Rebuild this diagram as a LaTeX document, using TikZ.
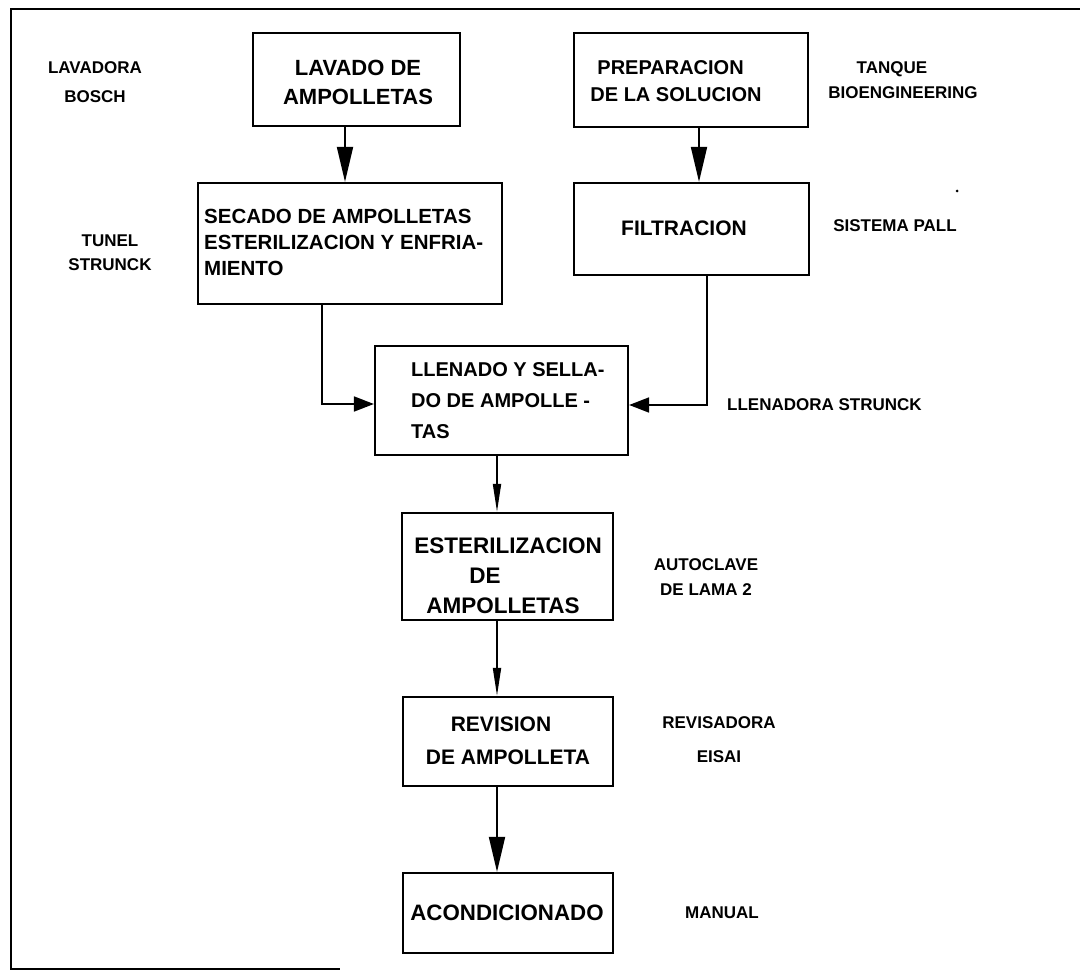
\documentclass[tikz,border=0pt]{standalone}
\usepackage{fontspec}
\setmainfont{Liberation Sans}
\usetikzlibrary{arrows.meta,calc}
\begin{document}
\begin{tikzpicture}[x=1pt,y=-1pt,
  box/.style={draw,line width=2.2pt,inner sep=0pt},
  txt/.style={inner sep=0pt,font=\fontsize{21}{30}\selectfont\bfseries,align=center},
  lbl/.style={inner sep=0pt,font=\fontsize{17}{26}\selectfont\bfseries,align=center},
  link/.style={line width=1.8pt},
  bigtip/.style={link,-{Triangle[length=35pt,width=16pt]}},
  midtip/.style={link,-{Triangle[length=28pt,width=8pt]}},
  sidetip/.style={link,-{Triangle[length=20pt,width=15pt]}}]
\useasboundingbox (0,0) rectangle (1080,979);

% page frame
\draw[line width=2.5pt] (1080,9) -- (11,9) -- (11,969) -- (340,969);

% process boxes
\node[box,minimum width=207pt,minimum height=93pt]  (lav)   at (356.5,79.5) {};
\node[box,minimum width=234pt,minimum height=94pt]  (prep)  at (691,80) {};
\node[box,minimum width=304pt,minimum height=121pt] (sec)   at (350,243.5) {};
\node[box,minimum width=235pt,minimum height=92pt]  (filt)  at (691.5,229) {};
\node[box,minimum width=253pt,minimum height=109pt] (llen)  at (501.5,400.5) {};
\node[box,minimum width=211pt,minimum height=107pt] (ester) at (507.5,566.5) {};
\node[box,minimum width=210pt,minimum height=89pt]  (rev)   at (508,741.5) {};
\node[box,minimum width=210pt,minimum height=80pt]  (acond) at (508,913) {};

% box captions
\node[txt,font=\fontsize{22}{29}\selectfont\bfseries] (lavT) at (358,82.5)
  {LAVADO DE\\AMPOLLETAS};
\node[txt,align=left,font=\fontsize{20}{27}\selectfont\bfseries] (prepT) at (676,81.5)
  {\hspace*{0.35em}PREPARACION\\DE LA SOLUCION};
\node[txt,anchor=west,align=left,font=\fontsize{20.5}{26}\selectfont\bfseries]
  (secT) at (204,242)
  {SECADO DE AMPOLLETAS\\ESTERILIZACION Y ENFRIA-\\MIENTO};
\node[txt] (filtT) at (684,228) {FILTRACION};
\node[txt,anchor=west,align=left,font=\fontsize{20}{31}\selectfont\bfseries] (llenT) at (411,401)
  {LLENADO Y SELLA-\\DO DE AMPOLLE -\\TAS};
\node[txt,font=\fontsize{22.5}{30}\selectfont\bfseries] (esterT) at (508,576)
  {ESTERILIZACION\\DE\makebox[46pt]{}\\AMPOLLETAS\makebox[10pt]{}};
\node[txt,font=\fontsize{21}{33}\selectfont\bfseries] (revT) at (508,740.5)
  {REVISION\makebox[14pt]{}\\DE AMPOLLETA};
\node[txt,font=\fontsize{22.3}{30}\selectfont\bfseries] (acondT) at (507,913) {ACONDICIONADO};

% equipment labels
\node[lbl,font=\fontsize{17}{29}\selectfont\bfseries] (l1) at (95,82.5) {LAVADORA\\BOSCH};
\node[lbl,font=\fontsize{17}{24}\selectfont\bfseries] (l2) at (110,253) {TUNEL\\STRUNCK};
\node[lbl,font=\fontsize{17}{25}\selectfont\bfseries] (l3) at (903,80.5)
  {TANQUE\makebox[22pt]{}\\BIOENGINEERING};
\node[lbl] (l4) at (895,226) {SISTEMA PALL};
\node[lbl,anchor=west] (l5) at (727,405) {LLENADORA STRUNCK};
\node[lbl,font=\fontsize{17}{25}\selectfont\bfseries] (l6) at (706,577.5) {AUTOCLAVE\\DE LAMA 2};
\node[lbl,font=\fontsize{17}{34}\selectfont\bfseries] (l7) at (719,740) {REVISADORA\\EISAI};
\node[lbl] (l8) at (722,913) {MANUAL};

% flow connectors
\coordinate (xa) at (345,0);
\coordinate (xb) at (699,0);
\coordinate (xc) at (322,404);
\coordinate (xd) at (707,405);
\coordinate (xe) at (497,0);
\draw[bigtip] (lav.south -| xa) -- (sec.north -| xa);
\draw[bigtip] (prep.south -| xb) -- (filt.north -| xb);
\draw[sidetip] (sec.south -| xc) |- (llen.west |- xc);
\draw[sidetip] (filt.south -| xd) |- (llen.east |- xd);
\draw[midtip] (llen.south -| xe) -- (ester.north -| xe);
\draw[midtip] (ester.south -| xe) -- (rev.north -| xe);
\draw[bigtip] (rev.south -| xe) -- (acond.north -| xe);

% small speck
\fill (957,191) circle (1.5pt);
\end{tikzpicture}
\end{document}
